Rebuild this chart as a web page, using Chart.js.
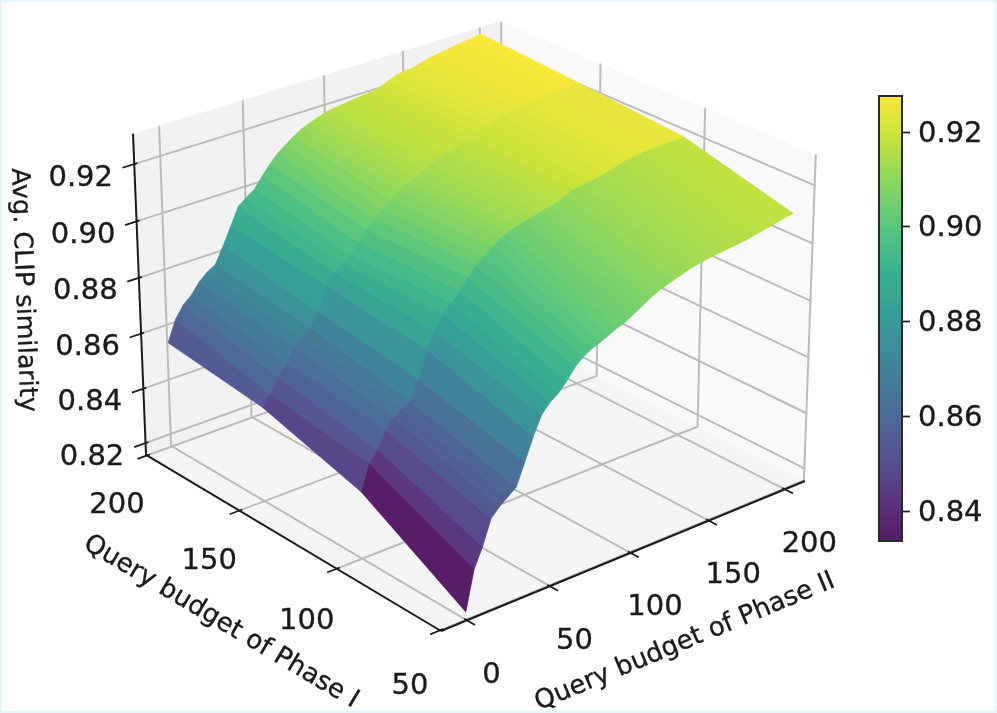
<!DOCTYPE html>
<html>
<head>
<meta charset="utf-8">
<title>Avg. CLIP similarity</title>
<script src="https://cdn.jsdelivr.net/npm/chart.js@4/dist/chart.umd.js"></script>
<style>
    html, body { margin: 0; padding: 0; background: #fff; }
    .figure { position: relative; width: 997px; height: 713px; overflow: hidden; }
    .figure canvas { position: absolute; display: block; }
    #chartSurface { left: 0; top: 0; }
    #chartColorbar { left: 870px; top: 86px; }
    .frame { position: absolute; inset: 0; border: 2px solid #e6f5fb; pointer-events: none; }
</style>
</head>
<body>
<div class="figure">
    <canvas id="chartSurface" width="997" height="713"></canvas>
    <canvas id="chartColorbar" width="125" height="465"></canvas>
    <div class="frame"></div>
</div>
<script>
const phaseOneBudgets = [50, 100, 150, 200];
const phaseTwoBudgets = [0, 5, 10, 15, 20, 25, 30, 35, 40, 45, 50, 55, 60, 65, 70, 75, 80, 85, 90, 95, 100,
    105, 110, 115, 120, 125, 130, 135, 140, 145, 150, 155, 160, 165, 170, 175, 180, 185, 190, 195, 200];

const similarityPhaseOne50 = [.8183, .8320, .8385, .8470, .8500, .8522, .8545, .8618, .8694, .8758, .8790,
    .8810, .8840, .8878, .8902, .8918, .8929, .8943, .8956, .8966, .8982,
    .8998, .9016, .9030, .9040, .9050, .9058, .9068, .9074, .9079, .9083,
    .9086, .9090, .9093, .9096, .9102, .9108, .9113, .9119, .9125, .9130];
const similarityPhaseOne100 = [.8392, .8480, .8518, .8575, .8612, .8630, .8644, .8707, .8800, .8854, .8903,
    .8932, .8962, .8998, .9030, .9052, .9074, .9094, .9106, .9116, .9124,
    .9131, .9138, .9144, .9150, .9164, .9176, .9180, .9184, .9187, .9194,
    .9202, .9210, .9217, .9220, .9222, .9224, .9225, .9226, .9227, .9228];
const similarityPhaseOne150 = [.8495, .8529, .8581, .8620, .8665, .8692, .8716, .8760, .8842, .8878, .8902,
    .8920, .8955, .8990, .9018, .9041, .9064, .9086, .9102, .9117, .9130,
    .9146, .9156, .9165, .9174, .9183, .9191, .9201, .9213, .9224, .9232,
    .9238, .9243, .9248, .9252, .9254, .9255, .9256, .9257, .9257, .9258];
const similarityPhaseOne200 = [.8537, .8612, .8655, .8680, .8718, .8743, .8760, .8816, .8878, .8940, .8962,
    .8982, .9020, .9055, .9084, .9105, .9126, .9143, .9155, .9165, .9175,
    .9180, .9184, .9188, .9191, .9195, .9198, .9205, .9218, .9230, .9234,
    .9236, .9244, .9252, .9258, .9262, .9266, .9271, .9275, .9279, .9283];
const similarityRows = [similarityPhaseOne50, similarityPhaseOne100, similarityPhaseOne150, similarityPhaseOne200];

const phaseOneTicks = [50, 100, 150, 200];
const phaseTwoTicks = [0, 50, 100, 150, 200];
const similarityTicks = [0.82, 0.84, 0.86, 0.88, 0.90, 0.92];
const colorbarTicks = [0.84, 0.86, 0.88, 0.90, 0.92];

const phaseOneLimits = [49.5, 200.5];
const phaseTwoLimits = [-15.3, 213.5];
const similarityLimits = [0.81558, 0.9305];
const colorLimits = [0.8337, 0.9276];

const viridisStops = ['#440154', '#482475', '#414487', '#355f8d', '#2a788e', '#21918c', '#22a884', '#44bf70', '#7ad151', '#bddf26', '#fde725'];
const colorbarLevels = 128;

// projective camera, box coordinates 0..1 to canvas units
const cameraOrigin = [441, 631];
const cameraU = [420, -116.5, 0.0696];
const cameraV = [-282.1, -135.9, 0.0882];
const cameraW = [-19.4, -354.8, -0.0394];

function project(u, v, w) {
    const d = 1 + cameraU[2] * u + cameraV[2] * v + cameraW[2] * w;
    return {
        x: (cameraOrigin[0] + cameraU[0] * u + cameraV[0] * v + cameraW[0] * w) / d,
        y: (cameraOrigin[1] + cameraU[1] * u + cameraV[1] * v + cameraW[1] * w) / d
    };
}

function boxU(budget) { return (budget - phaseTwoLimits[0]) / (phaseTwoLimits[1] - phaseTwoLimits[0]); }
function boxV(budget) { return (budget - phaseOneLimits[0]) / (phaseOneLimits[1] - phaseOneLimits[0]); }
function boxW(value) { return (value - similarityLimits[0]) / (similarityLimits[1] - similarityLimits[0]); }

function hexToRgb(hex) {
    return [1, 3, 5].map(i => parseInt(hex.slice(i, i + 2), 16));
}

// surface was drawn with alpha .9, blended on white here so the seams stay closed
function viridis(t) {
    t = Math.min(1, Math.max(0, t));
    let pos = t * (viridisStops.length - 1);
    let i = Math.min(viridisStops.length - 2, Math.floor(pos));
    let a = hexToRgb(viridisStops[i]);
    let b = hexToRgb(viridisStops[i + 1]);
    let rgb = a.map((c, k) => (c + (b[k] - c) * (pos - i)) * 0.9 + 25.5);
    return `rgb(${Math.round(rgb[0])},${Math.round(rgb[1])},${Math.round(rgb[2])})`;
}

function colorFor(value) {
    return viridis((value - colorLimits[0]) / (colorLimits[1] - colorLimits[0]));
}

function polygon(points, color, edge) {
    return {
        data: points.concat([points[0]]),
        showLine: true,
        fill: 'shape',
        backgroundColor: color,
        borderColor: edge || color,
        borderWidth: edge === 'transparent' ? 0 : 0.7,
        pointRadius: 0,
        tension: 0,
        clip: false
    };
}

function polyline(points, color, width) {
    return {
        data: points,
        showLine: true,
        fill: false,
        borderColor: color,
        borderWidth: width,
        pointRadius: 0,
        tension: 0,
        clip: false
    };
}

let surfaceSets = [];
let axisSets = [];
let gridSets = [];
let paneSets = [];

// first dataset ends up on top, so the front quads go first
for (let r = 0; r < phaseOneBudgets.length - 1; r++) {
    for (let c = 0; c < phaseTwoBudgets.length - 1; c++) {
        let v0 = boxV(phaseOneBudgets[r]);
        let v1 = boxV(phaseOneBudgets[r + 1]);
        let u0 = boxU(phaseTwoBudgets[c]);
        let u1 = boxU(phaseTwoBudgets[c + 1]);
        let z00 = similarityRows[r][c];
        let z01 = similarityRows[r][c + 1];
        let z10 = similarityRows[r + 1][c];
        let z11 = similarityRows[r + 1][c + 1];
        let avg = (z00 + z01 + z10 + z11) / 4;
        surfaceSets.push(polygon([
            project(u0, v0, boxW(z00)),
            project(u1, v0, boxW(z01)),
            project(u1, v1, boxW(z11)),
            project(u0, v1, boxW(z10))
        ], colorFor(avg)));
    }
}

const axisColor = '#1a1a1a';
const gridColor = '#bcbcbc';

axisSets.push(polyline([project(0, 0, 0), project(1, 0, 0)], axisColor, 2));
axisSets.push(polyline([project(0, 0, 0), project(0, 1, 0)], axisColor, 2));
axisSets.push(polyline([project(0, 1, 0), project(0, 1, 1)], axisColor, 2));

phaseTwoTicks.forEach(t => {
    axisSets.push(polyline([project(boxU(t), -0.025, 0), project(boxU(t), 0.008, 0)], axisColor, 1.7));
    gridSets.push(polyline([project(boxU(t), 0, 0), project(boxU(t), 1, 0), project(boxU(t), 1, 1)], gridColor, 2));
});
phaseOneTicks.forEach(t => {
    axisSets.push(polyline([project(-0.025, boxV(t), 0), project(0.008, boxV(t), 0)], axisColor, 1.7));
    gridSets.push(polyline([project(0, boxV(t), 0), project(1, boxV(t), 0), project(1, boxV(t), 1)], gridColor, 2));
});
similarityTicks.forEach(t => {
    axisSets.push(polyline([project(-0.03, 1, boxW(t)), project(0.008, 1, boxW(t))], axisColor, 1.7));
    gridSets.push(polyline([project(0, 1, boxW(t)), project(1, 1, boxW(t)), project(1, 0, boxW(t))], gridColor, 2));
});

paneSets.push(polygon([project(0, 0, 0), project(1, 0, 0), project(1, 1, 0), project(0, 1, 0)], '#f5f5f5', 'transparent'));
paneSets.push(polygon([project(0, 1, 0), project(1, 1, 0), project(1, 1, 1), project(0, 1, 1)], '#f2f2f2', 'transparent'));
paneSets.push(polygon([project(1, 1, 0), project(1, 0, 0), project(1, 0, 1), project(1, 1, 1)], '#f9f9f9', 'transparent'));

function drawText(ctx, text, x, y, size, angle, align) {
    ctx.save();
    ctx.translate(x, y);
    ctx.rotate(angle * Math.PI / 180);
    ctx.font = size + 'px "DejaVu Sans"';
    ctx.fillStyle = axisColor;
    ctx.strokeStyle = axisColor;
    ctx.lineWidth = 0.35;
    ctx.textAlign = align || 'center';
    ctx.textBaseline = 'middle';
    ctx.fillText(text, 0, 0);
    ctx.strokeText(text, 0, 0);
    ctx.restore();
}

const axisText = {
    id: 'axisText',
    afterDraw(chart) {
        let ctx = chart.ctx;
        similarityTicks.forEach(t => {
            let p = project(0, 1, boxW(t));
            drawText(ctx, t.toFixed(2), p.x - 53.5, p.y + 14, 29, 0);
        });
        phaseTwoTicks.forEach(t => {
            let p = project(boxU(t), 0, 0);
            drawText(ctx, String(t), p.x + 24.5, p.y + 55, 29, 0);
        });
        phaseOneTicks.forEach(t => {
            let v = boxV(t);
            let p = project(0, v, 0);
            drawText(ctx, String(t), p.x - 30, p.y + 50 + 6 * (1 - v) * (1 - v), 29, 0);
        });
        drawText(ctx, 'Avg. CLIP similarity', 23, 290, 25.5, 88);
        drawText(ctx, 'Query budget of Phase I', 221, 622, 26, 30.7);
        drawText(ctx, 'Query budget of Phase II', 685, 642, 26, -22.6);
    }
};

new Chart(document.getElementById('chartSurface'), {
    type: 'scatter',
    data: { datasets: surfaceSets.concat(axisSets, gridSets, paneSets) },
    options: {
        responsive: false,
        animation: false,
        events: [],
        layout: { padding: 0 },
        plugins: { legend: { display: false }, tooltip: { enabled: false } },
        scales: {
            x: { type: 'linear', display: false, min: 0, max: 997 },
            y: { type: 'linear', display: false, min: 0, max: 713, reverse: true }
        }
    },
    plugins: [axisText]
});

let colorbarSets = [];
for (let i = 0; i < colorbarLevels; i++) {
    let span = colorLimits[1] - colorLimits[0];
    colorbarSets.push({
        data: [[colorLimits[0] + span * i / colorbarLevels, colorLimits[0] + span * (i + 1.2) / colorbarLevels]],
        backgroundColor: viridis((i + 0.5) / colorbarLevels),
        borderWidth: 0,
        barPercentage: 1,
        categoryPercentage: 1,
        grouped: false
    });
}

const colorbarOutline = {
    id: 'colorbarOutline',
    afterDraw(chart) {
        let a = chart.chartArea;
        let ctx = chart.ctx;
        ctx.save();
        ctx.strokeStyle = '#2b2b2b';
        ctx.lineWidth = 2;
        ctx.strokeRect(a.left, a.top, a.right - a.left, a.bottom - a.top);
        ctx.restore();
        colorbarTicks.forEach(t => {
            drawText(ctx, t.toFixed(2), a.right + 16, chart.scales.y.getPixelForValue(t) + 2, 29, 0, 'left');
        });
    }
};

new Chart(document.getElementById('chartColorbar'), {
    type: 'bar',
    data: { labels: ['similarity'], datasets: colorbarSets },
    options: {
        responsive: false,
        animation: false,
        events: [],
        layout: { padding: { left: 9, top: 10, bottom: 10, right: 0 } },
        plugins: { legend: { display: false }, tooltip: { enabled: false } },
        scales: {
            x: { display: false },
            y: {
                position: 'right',
                min: colorLimits[0],
                max: colorLimits[1],
                afterBuildTicks: scale => { scale.ticks = colorbarTicks.map(v => ({ value: v })); },
                afterFit: scale => {
                    scale.width = 93;
                    scale.paddingTop = 0;
                    scale.paddingBottom = 0;
                },
                border: { display: false },
                grid: { drawOnChartArea: false, drawTicks: true, tickLength: 8, tickWidth: 1.7, tickColor: '#1a1a1a' },
                ticks: { display: false }
            }
        }
    },
    plugins: [colorbarOutline]
});
</script>
</body>
</html>
